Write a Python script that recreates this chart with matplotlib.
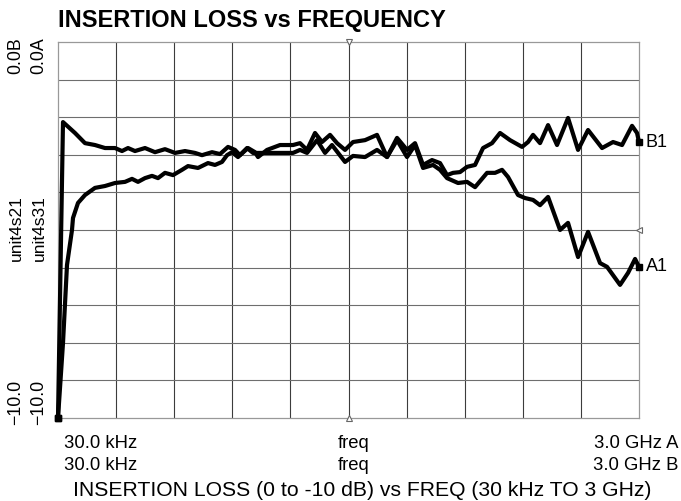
import numpy as np
import matplotlib.pyplot as plt

# trace data (freq in MHz, loss in dB)
freq_b = [0.03, 25.8, 87.8, 139.4, 191, 242.7, 294.3, 330.5, 361.5, 397.6, 449.3, 500.9,
          552.5, 604.2, 655.8, 707.5, 743.6, 795.3, 836.6, 877.9, 914, 939.8, 981.1, 1017.3,
          1032.8, 1079.3, 1146.4, 1213.5, 1249.7, 1285.8, 1327.1, 1363.3, 1404.6, 1440.8,
          1482.1, 1523.4, 1585.4, 1647.3, 1699, 1750.6, 1802.2, 1843.5, 1884.9, 1931.3,
          1972.6, 2008.8, 2039.8, 2075.9, 2112.1, 2153.4, 2194.7, 2241.2, 2282.5, 2334.1,
          2396.1, 2427.1, 2452.9, 2489, 2530.4, 2576.8, 2633.6, 2685.3, 2736.9, 2809.2,
          2866, 2912.5, 2964.1, 2989.9, 3000]
loss_b = [-10.0, -2.13, -2.42, -2.69, -2.74, -2.82, -2.82, -2.90, -2.82, -2.90, -2.82, -2.93,
          -2.85, -2.95, -2.90, -2.95, -3.01, -2.93, -2.98, -2.79, -2.87, -3.01, -2.82, -2.93,
          -3.06, -2.87, -2.74, -2.74, -2.69, -2.87, -2.42, -2.66, -2.47, -2.69,
          -2.87, -2.66, -2.61, -2.47, -3.06, -2.55, -2.87, -2.69, -3.27, -3.14,
          -3.22, -3.54, -3.48, -3.46, -3.32, -3.27, -2.82, -2.69, -2.42, -2.61,
          -2.79, -2.66, -2.47, -2.69, -2.21, -2.74, -2.02, -2.87, -2.34, -2.82,
          -2.66, -2.74, -2.23, -2.42, -2.66]

freq_a = [0.03, 25.8, 46.5, 72.3, 77.5, 103.3, 139.4, 191, 242.7, 294.3, 346, 382.1, 413.1,
          449.3, 485.4, 516.4, 552.5, 593.9, 640.3, 671.3, 723, 774.6, 810.7, 846.9, 872.7,
          898.5, 929.5, 976, 1007, 1079.3, 1213.5, 1249.7, 1285.8, 1337.5, 1378.8, 1414.9,
          1482.1, 1523.4, 1585.4, 1647.3, 1699, 1750.6, 1802.2, 1843.5, 1884.9, 1936.5,
          1972.6, 2008.8, 2065.6, 2112.1, 2153.4, 2215.4, 2256.7, 2292.8, 2323.8, 2375.4,
          2411.6, 2452.9, 2489, 2530.4, 2592.3, 2633.6, 2685.3, 2736.9, 2798.9, 2835,
          2902.2, 2943.5, 2979.7, 3000]
loss_a = [-10.0, -8.01, -5.93, -5.00, -4.68, -4.28, -4.07, -3.88, -3.83, -3.75, -3.72, -3.64, -3.72,
          -3.62, -3.56, -3.62, -3.48, -3.54, -3.40, -3.30, -3.35, -3.22, -3.27, -3.19, -3.01,
          -2.93, -3.06, -2.82, -2.95, -2.95, -2.95, -2.87, -2.95, -2.61, -2.95, -2.74,
          -3.19, -3.03, -3.06, -2.87, -3.06, -2.61, -3.06, -2.74, -3.35, -3.27,
          -3.40, -3.62, -3.75, -3.72, -3.86, -3.48, -3.48, -3.40, -3.59, -4.07,
          -4.15, -4.20, -4.34, -4.12, -5.00, -4.81, -5.72, -5.05, -5.88, -5.98,
          -6.46, -6.14, -5.77, -5.98]

f_start, f_stop = 0.03, 3000.0
db_top, db_bottom = 0.0, -10.0

plt.rcParams["font.family"] = ["Liberation Sans", "DejaVu Sans"]

W, H = 681, 501
fig = plt.figure(figsize=(W / 100, H / 100), dpi=100)


def fx(px):
    return px / W


def fy(py):
    return 1 - py / H


ax = fig.add_axes([fx(58), fy(418), fx(639) - fx(58), fy(42) - fy(418)])
ax.set_xlim(f_start, f_stop)
ax.set_ylim(db_bottom, db_top)

# graticule: 10 x 10 divisions
for v in np.linspace(f_start, f_stop, 11)[1:-1]:
    ax.axvline(v, color="#3c3c3c", lw=0.8, zorder=1)
for h in np.linspace(db_bottom, db_top, 11)[1:-1]:
    ax.axhline(h, color="#6e6e6e", lw=0.8, zorder=1)
for s in ax.spines.values():
    s.set_color("#999999")
    s.set_linewidth(0.9)
ax.set_xticks([])
ax.set_yticks([])

for fr, ls in [(freq_b, loss_b), (freq_a, loss_a)]:
    ax.plot(fr, ls, color="black", lw=3.0, solid_joinstyle="round",
            solid_capstyle="round", zorder=3, clip_on=False)
    ax.plot([fr[0], fr[-1]], [ls[0], ls[-1]], ls="none", marker="s", ms=4.5,
            color="black", zorder=4, clip_on=False)

# reference markers
fmid = (f_start + f_stop) / 2
ax.plot([fmid], [db_top], marker="v", ms=4, mfc="white", mec="#666666", mew=0.8,
        clip_on=False, zorder=5)
ax.plot([fmid], [db_bottom], marker="^", ms=4, mfc="white", mec="#666666", mew=0.8,
        clip_on=False, zorder=5)
ax.plot([f_stop], [-5.0], marker="<", ms=4, mfc="white", mec="#666666", mew=0.8,
        clip_on=False, zorder=5)

ax.text(1.012, loss_b[-1], "B1", transform=ax.get_yaxis_transform(), fontsize=13,
        va="center", ha="left")
ax.text(1.012, loss_a[-1], "A1", transform=ax.get_yaxis_transform(), fontsize=13,
        va="center", ha="left")

fig.text(fx(58), fy(20), "INSERTION LOSS vs FREQUENCY", fontsize=17, fontweight="bold",
         ha="left", va="center")

for xcol, top, name in [(16, "0.0B", "unit4s21"), (39, "0.0A", "unit4s31")]:
    fig.text(fx(xcol), fy(37), top, rotation=90, fontsize=12.8, ha="center", va="top")
    fig.text(fx(xcol), fy(228), name, rotation=90, fontsize=12.5, ha="center", va="center")
    fig.text(fx(xcol), fy(425), "\u221210.0", rotation=90, fontsize=12.8, ha="center",
             va="bottom")

for ypix, ch in [(444, "A"), (466, "B")]:
    fig.text(fx(64), fy(ypix), "30.0 kHz", fontsize=13.3, ha="left", va="center")
    fig.text(fx(354), fy(ypix), "freq", fontsize=13.3, ha="center", va="center")
    fig.text(fx(678), fy(ypix), "3.0 GHz " + ch, fontsize=13.3, ha="right", va="center")

fig.text(fx(362), fy(490), "INSERTION LOSS (0 to -10 dB) vs FREQ (30 kHz TO 3 GHz)",
         fontsize=15.2, ha="center", va="center")

fig.savefig("out.png", dpi=100)
